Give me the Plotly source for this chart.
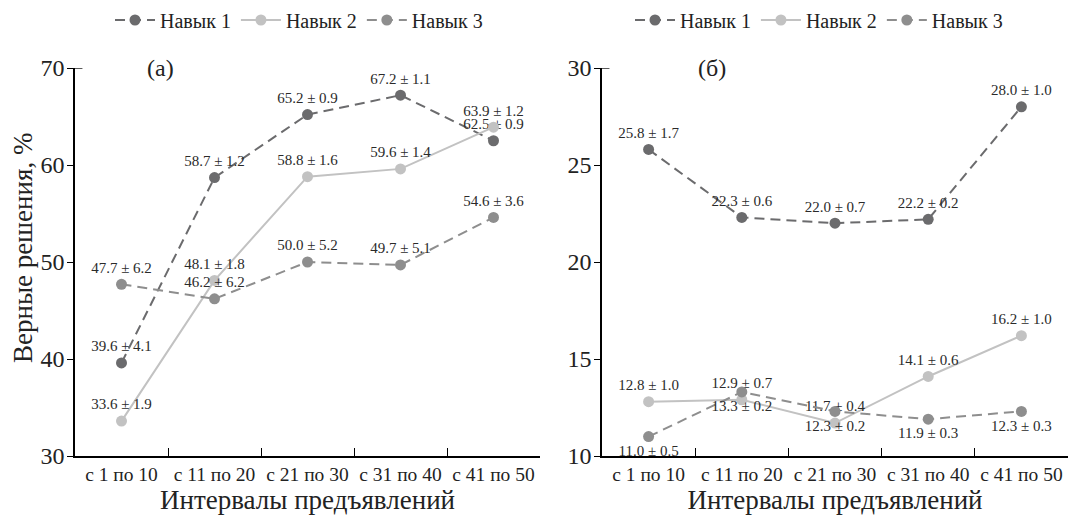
import plotly.graph_objects as go

categories = ["с 1 по 10", "с 11 по 20", "с 21 по 30", "с 31 по 40", "с 41 по 50"]
series_names = ["Навык 1", "Навык 2", "Навык 3"]

# Panel (a)
a_skill1 = [39.6, 58.7, 65.2, 67.2, 62.5]
a_skill1_err = [4.1, 1.2, 0.9, 1.1, 0.9]
a_skill2 = [33.6, 48.1, 58.8, 59.6, 63.9]
a_skill2_err = [1.9, 1.8, 1.6, 1.4, 1.2]
a_skill3 = [47.7, 46.2, 50.0, 49.7, 54.6]
a_skill3_err = [6.2, 6.2, 5.2, 5.1, 3.6]

# Panel (б)
b_skill1 = [25.8, 22.3, 22.0, 22.2, 28.0]
b_skill1_err = [1.7, 0.6, 0.7, 0.2, 1.0]
b_skill2 = [12.8, 12.9, 11.7, 14.1, 16.2]
b_skill2_err = [1.0, 0.7, 0.4, 0.6, 1.0]
b_skill3 = [11.0, 13.3, 12.3, 11.9, 12.3]
b_skill3_err = [0.5, 0.2, 0.2, 0.3, 0.3]

FONT = "Liberation Serif, Times New Roman, DejaVu Serif, serif"
C1, C2, C3 = "#6b6b6d", "#c2c2c2", "#8e8e8e"
DASH = "10px,6px"


def labels(vals, errs):
    return [f"{v:.1f} ± {e:.1f}" for v, e in zip(vals, errs)]


fig = go.Figure()

panels = [
    ("x", "y", "legend", [(a_skill1, a_skill1_err, "top center"),
                          (a_skill2, a_skill2_err, "top center"),
                          (a_skill3, a_skill3_err, "top center")]),
    ("x2", "y2", "legend2", [(b_skill1, b_skill1_err, "top center"),
                             (b_skill2, b_skill2_err, "top center"),
                             (b_skill3, b_skill3_err, "bottom center")]),
]
styles = [(C1, DASH), (C2, "solid"), (C3, DASH)]

for xa, ya, lg, data in panels:
    for (vals, errs, pos), name, (col, dash) in zip(data, series_names, styles):
        fig.add_trace(go.Scatter(
            x=categories, y=vals, name=name, xaxis=xa, yaxis=ya, legend=lg,
            mode="lines+markers+text",
            line=dict(color=col, width=2, dash=dash),
            marker=dict(color=col, size=11),
            text=labels(vals, errs), textposition=pos,
            textfont=dict(family=FONT, size=15, color="#2a2a2a"),
            cliponaxis=False,
        ))

axis_common = dict(showline=True, linecolor="black", linewidth=1.5,
                   showgrid=False, zeroline=False)

xcommon = dict(axis_common, type="category", tickson="boundaries", ticks="inside",
               ticklen=8, tickcolor="black", tickwidth=1.3,
               range=[-0.5, 4.5], tickangle=0, automargin=False,
               tickfont=dict(family=FONT, size=19.5, color="#222"),
               title=dict(text="Интервалы предъявлений",
                          font=dict(family=FONT, size=27, color="#222"), standoff=1))
ycommon = dict(axis_common, ticks="outside", ticklen=6, tickcolor="black", tickwidth=1.3,
               automargin=False, ticklabelstandoff=-2,
               tickfont=dict(family=FONT, size=24, color="#222"))

W, H = 1071, 515
ml, mr, mt, mb = 75, 3, 68, 59
pw = W - ml - mr
ph = H - mt - mb

legend_common = dict(orientation="h", xanchor="center", yref="container", xref="container",
                     y=1 - 20 / H, yanchor="middle",
                     font=dict(family=FONT, size=20, color="#222"), itemwidth=40,
                     bgcolor="rgba(0,0,0,0)")

fig.update_layout(
    width=W, height=H,
    margin=dict(l=ml, r=mr, t=mt, b=mb),
    paper_bgcolor="white", plot_bgcolor="white",
    font=dict(family=FONT, color="#222"),
    showlegend=True,
    xaxis=dict(xcommon, domain=[0, (540 - ml) / pw], anchor="y"),
    xaxis2=dict(xcommon, domain=[(602 - ml) / pw, 1.0], anchor="y2"),
    yaxis=dict(ycommon, range=[30, 70], dtick=10, anchor="x"),
    yaxis2=dict(ycommon, range=[10, 30], dtick=5, anchor="x2"),
    legend=dict(legend_common, x=299 / W),
    legend2=dict(legend_common, x=819 / W),
    annotations=[
        dict(text="Верные решения, %", textangle=-90, xref="paper", yref="paper",
             x=(23 - ml) / pw, y=(H - mb - 248) / ph, xanchor="center", yanchor="middle",
             showarrow=False, font=dict(family=FONT, size=27, color="#222")),
        dict(text="(a)", xref="x domain", yref="y domain", x=0.183, y=1.0,
             xanchor="center", yanchor="middle", showarrow=False,
             font=dict(family=FONT, size=24, color="#222")),
        dict(text="(б)", xref="x2 domain", yref="y2 domain", x=0.236, y=1.0,
             xanchor="center", yanchor="middle", showarrow=False,
             font=dict(family=FONT, size=24, color="#222")),
    ],
    shapes=[
        dict(type="line", xref="x domain", yref="y", x0=0, x1=0.016, y0=70, y1=70,
             line=dict(color="black", width=1.3)),
        dict(type="line", xref="x2 domain", yref="y2", x0=0, x1=0.016, y0=30, y1=30,
             line=dict(color="black", width=1.3)),
    ],
)

fig.write_html("out.html", config={"displayModeBar": False},
               post_script="document.body.style.margin='0';document.body.style.overflow='hidden';")
